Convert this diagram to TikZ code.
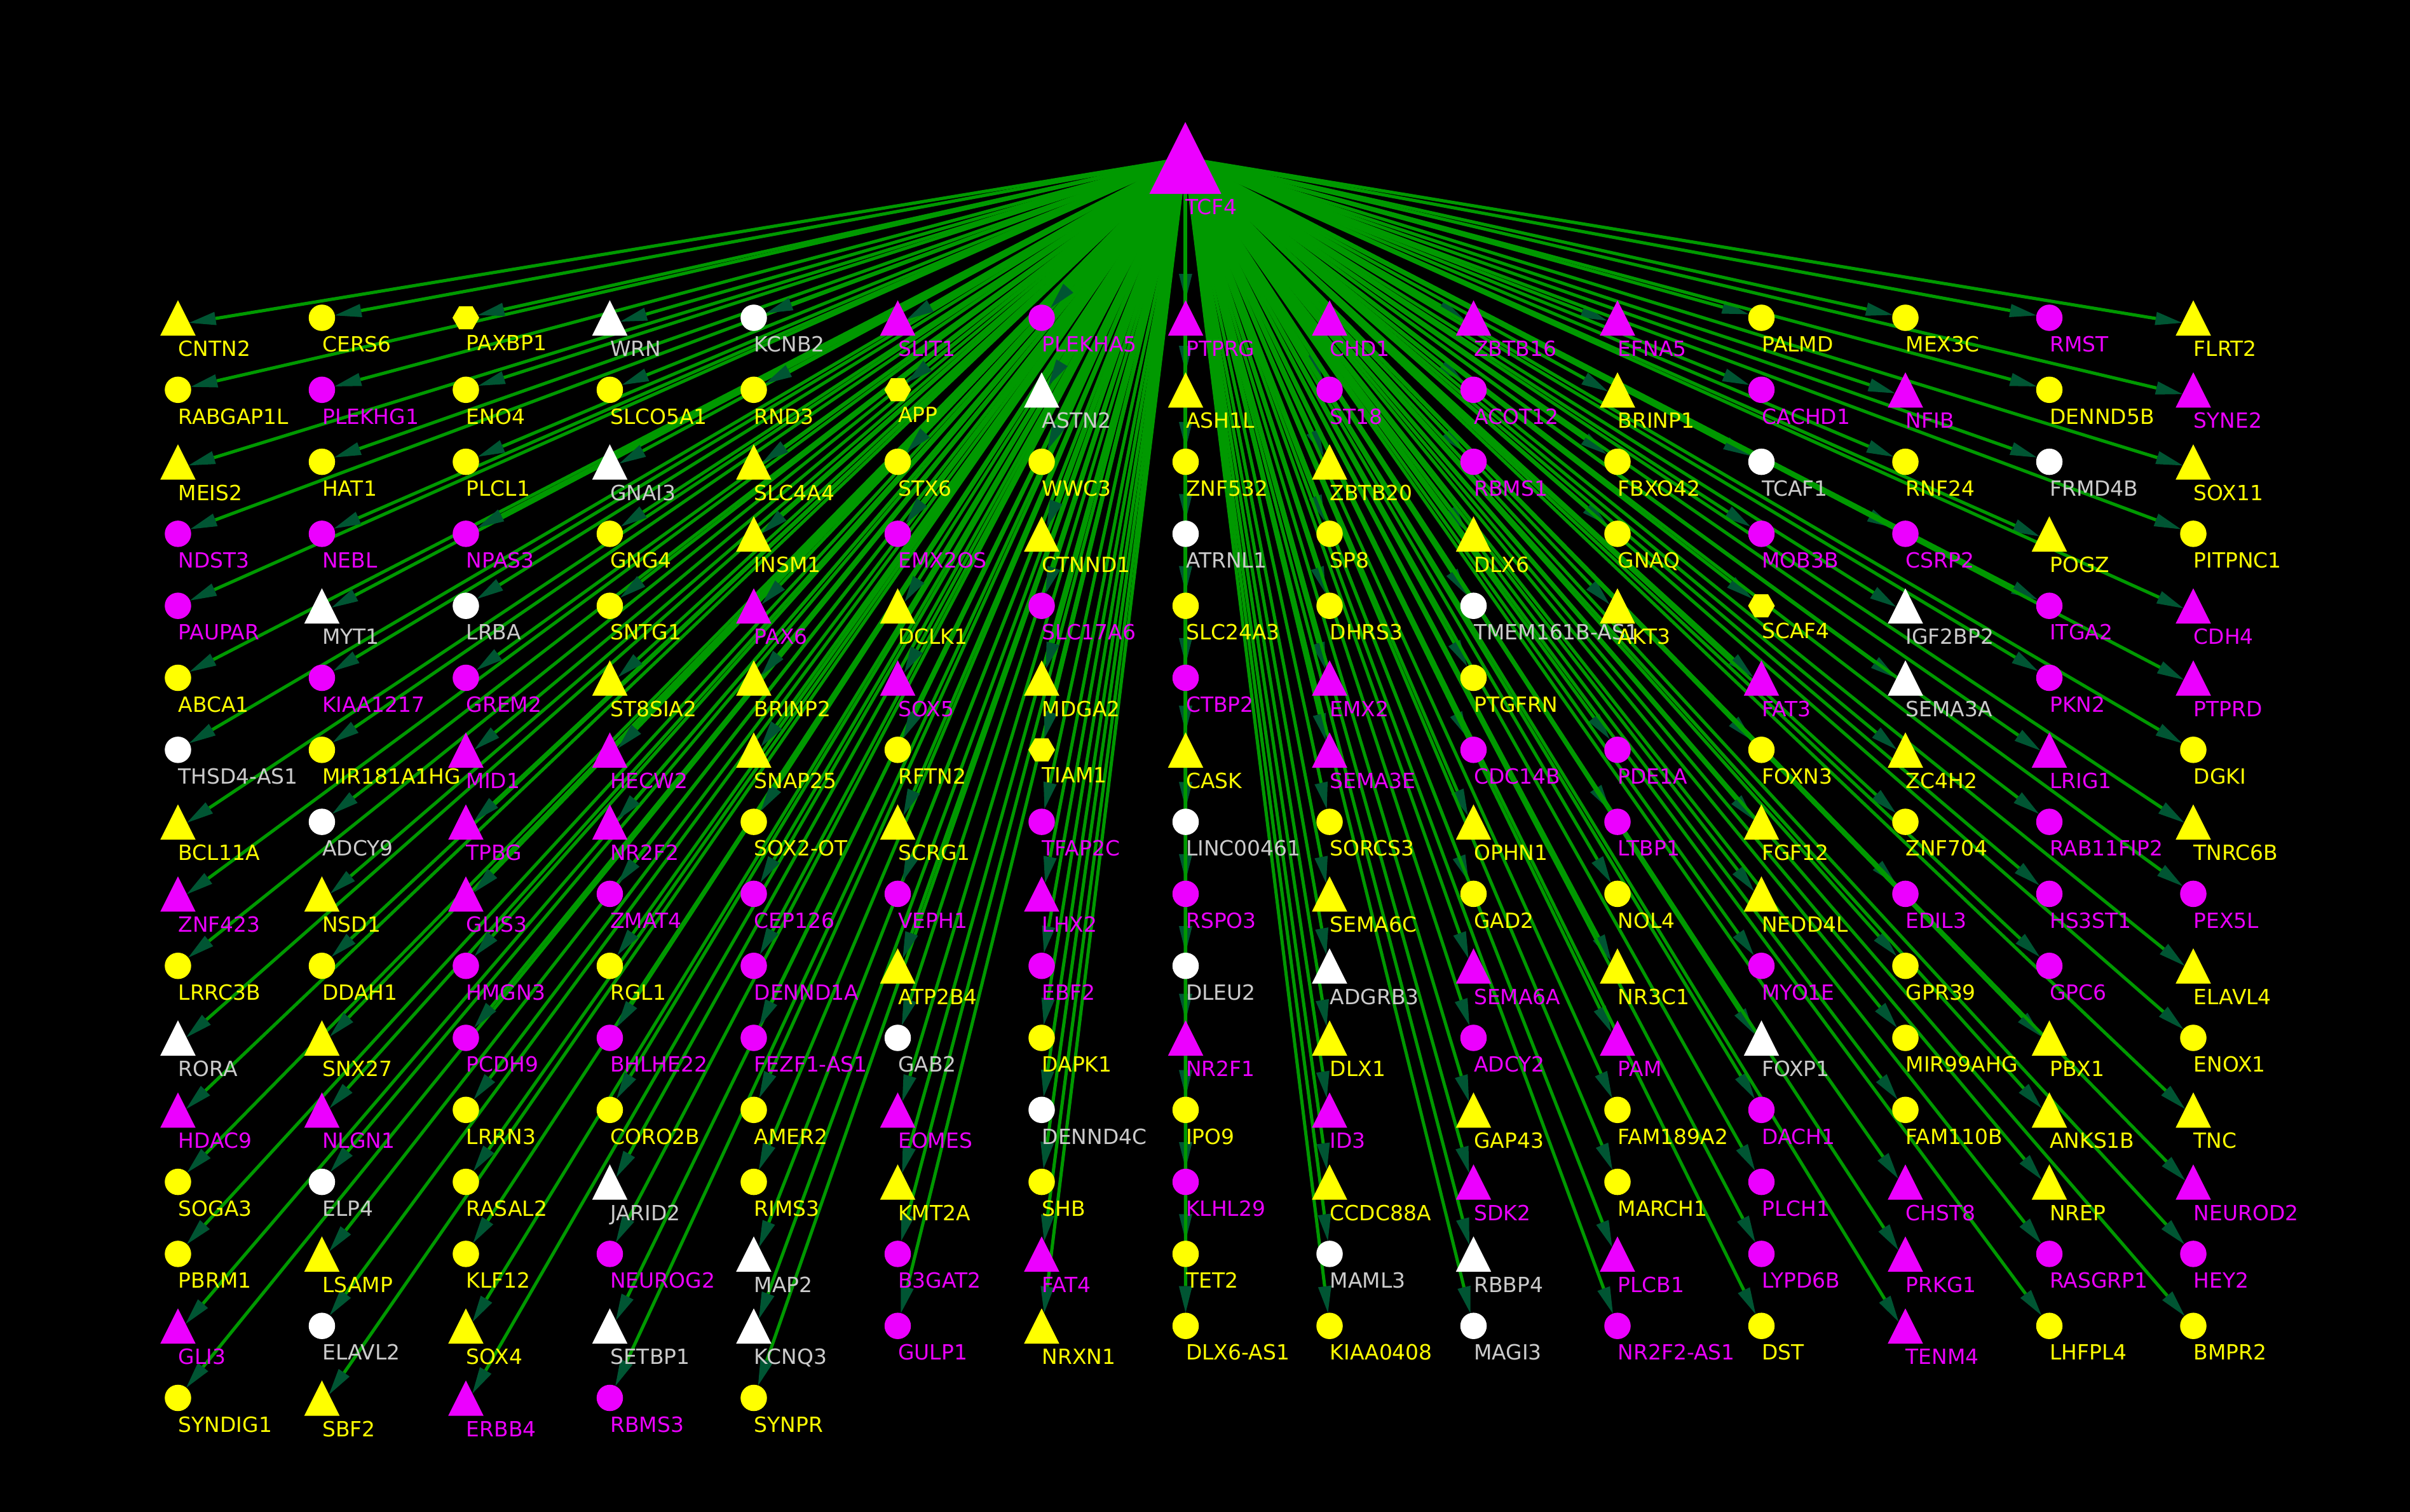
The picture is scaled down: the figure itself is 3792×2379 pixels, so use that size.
\documentclass[tikz,border=0pt]{standalone}
\usepackage{fontspec}
\setmainfont{DejaVu Sans}
\usetikzlibrary{arrows.meta, shapes.geometric}
\definecolor{ndy}{RGB}{255,255,0}
\definecolor{ndm}{RGB}{236,0,255}
\definecolor{ndw}{RGB}{255,255,255}
\definecolor{txy}{RGB}{255,255,0}
\definecolor{txm}{RGB}{236,0,255}
\definecolor{txw}{RGB}{204,204,204}
\definecolor{edgegreen}{RGB}{0,153,0}
\definecolor{arrowgreen}{RGB}{0,85,51}
\pgfdeclarelayer{bg}
\pgfdeclarelayer{edges}
\pgfsetlayers{bg,edges,main}

\tikzset{
	gene/.style={draw=none, inner sep=0pt, outer sep=0pt},
	shT/.style={gene, isosceles triangle, isosceles triangle stretches, shape border rotate=90, minimum width=0.555cm, minimum height=0.555cm, anchor=apex, yshift=0.275cm},
	shC/.style={gene, circle, minimum size=0.415cm},
	shH/.style={gene, regular polygon, regular polygon sides=6, minimum size=0.42cm},
	lbl/.style={anchor=base west, inner sep=0pt, font=\fontsize{9.37pt}{11pt}\selectfont},
	lbT/.style={yshift=-0.605cm},
	lbC/.style={yshift=-0.537cm},
	lbH/.style={yshift=-0.515cm},
	edge/.style={draw=edgegreen, line width=1.45pt, -{Triangle[length=11.9pt, width=6pt, line width=0pt, color=arrowgreen]}}
}

% one column of target genes: column, x, first row, list name/shape/colour
\newcommand{\genecol}[4]{%
	\foreach \gname/\shp/\clr [count=\rw from #3] in {#4}{
		\node[sh\shp, fill=nd\clr] (g-#1-\rw) at (#2, {500+113.3*(\rw-1)}) {};
		\node[lbl, lb\shp, text=tx\clr] (g-#1-\rw-t) at (#2, {500+113.3*(\rw-1)}) {\gname};
		\begin{pgfonlayer}{edges}
			\draw[edge] (src) -- (g-#1-\rw);
		\end{pgfonlayer}
	}%
}

\begin{document}
\begin{tikzpicture}[x=0.01cm, y=-0.01cm]
	\useasboundingbox (0,0) rectangle (3792,2379);
	\begin{pgfonlayer}{bg}
		\fill[black] (0,0) rectangle (3792,2379);
	\end{pgfonlayer}
	
	% hub
	\coordinate (src) at (1865,249);
	\node[gene, isosceles triangle, isosceles triangle stretches, shape border rotate=90, minimum width=1.13cm, minimum height=1.13cm, anchor=apex, fill=ndm] (hub) at (1865,192) {};
	\node[lbl, text=txm] (hub-t) at (1865,338) {TCF4};
	
	\genecol{1}{280}{1}{CNTN2/T/y, RABGAP1L/C/y, MEIS2/T/y, NDST3/C/m, PAUPAR/C/m, ABCA1/C/y, THSD4-AS1/C/w, BCL11A/T/y, ZNF423/T/m, LRRC3B/C/y, RORA/T/w, HDAC9/T/m, SOGA3/C/y, PBRM1/C/y, GLI3/T/m, SYNDIG1/C/y}
	\genecol{2}{506.5}{1}{CERS6/C/y, PLEKHG1/C/m, HAT1/C/y, NEBL/C/m, MYT1/T/w, KIAA1217/C/m, MIR181A1HG/C/y, ADCY9/C/w, NSD1/T/y, DDAH1/C/y, SNX27/T/y, NLGN1/T/m, ELP4/C/w, LSAMP/T/y, ELAVL2/C/w, SBF2/T/y}
	\genecol{3}{733}{1}{PAXBP1/H/y, ENO4/C/y, PLCL1/C/y, NPAS3/C/m, LRBA/C/w, GREM2/C/m, MID1/T/m, TPBG/T/m, GLIS3/T/m, HMGN3/C/m, PCDH9/C/m, LRRN3/C/y, RASAL2/C/y, KLF12/C/y, SOX4/T/y, ERBB4/T/m}
	\genecol{4}{959.5}{1}{WRN/T/w, SLCO5A1/C/y, GNAI3/T/w, GNG4/C/y, SNTG1/C/y, ST8SIA2/T/y, HECW2/T/m, NR2F2/T/m, ZMAT4/C/m, RGL1/C/y, BHLHE22/C/m, CORO2B/C/y, JARID2/T/w, NEUROG2/C/m, SETBP1/T/w, RBMS3/C/m}
	\genecol{5}{1186}{1}{KCNB2/C/w, RND3/C/y, SLC4A4/T/y, INSM1/T/y, PAX6/T/m, BRINP2/T/y, SNAP25/T/y, SOX2-OT/C/y, CEP126/C/m, DENND1A/C/m, FEZF1-AS1/C/m, AMER2/C/y, RIMS3/C/y, MAP2/T/w, KCNQ3/T/w, SYNPR/C/y}
	\genecol{6}{1412.5}{1}{SLIT1/T/m, APP/H/y, STX6/C/y, EMX2OS/C/m, DCLK1/T/y, SOX5/T/m, RFTN2/C/y, SCRG1/T/y, VEPH1/C/m, ATP2B4/T/y, GAB2/C/w, EOMES/T/m, KMT2A/T/y, B3GAT2/C/m, GULP1/C/m}
	\genecol{7}{1639}{1}{PLEKHA5/C/m, ASTN2/T/w, WWC3/C/y, CTNND1/T/y, SLC17A6/C/m, MDGA2/T/y, TIAM1/H/y, TFAP2C/C/m, LHX2/T/m, EBF2/C/m, DAPK1/C/y, DENND4C/C/w, SHB/C/y, FAT4/T/m, NRXN1/T/y}
	\genecol{8}{1865.5}{1}{PTPRG/T/m, ASH1L/T/y, ZNF532/C/y, ATRNL1/C/w, SLC24A3/C/y, CTBP2/C/m, CASK/T/y, LINC00461/C/w, RSPO3/C/m, DLEU2/C/w, NR2F1/T/m, IPO9/C/y, KLHL29/C/m, TET2/C/y, DLX6-AS1/C/y}
	\genecol{9}{2092}{1}{CHD1/T/m, ST18/C/m, ZBTB20/T/y, SP8/C/y, DHRS3/C/y, EMX2/T/m, SEMA3E/T/m, SORCS3/C/y, SEMA6C/T/y, ADGRB3/T/w, DLX1/T/y, ID3/T/m, CCDC88A/T/y, MAML3/C/w, KIAA0408/C/y}
	\genecol{10}{2318.5}{1}{ZBTB16/T/m, ACOT12/C/m, RBMS1/C/m, DLX6/T/y, TMEM161B-AS1/C/w, PTGFRN/C/y, CDC14B/C/m, OPHN1/T/y, GAD2/C/y, SEMA6A/T/m, ADCY2/C/m, GAP43/T/y, SDK2/T/m, RBBP4/T/w, MAGI3/C/w}
	\genecol{11}{2545}{1}{EFNA5/T/m, BRINP1/T/y, FBXO42/C/y, GNAQ/C/y, AKT3/T/y}
	\genecol{11}{2545}{7}{PDE1A/C/m, LTBP1/C/m, NOL4/C/y, NR3C1/T/y, PAM/T/m, FAM189A2/C/y, MARCH1/C/y, PLCB1/T/m, NR2F2-AS1/C/m}
	\genecol{12}{2771.5}{1}{PALMD/C/y, CACHD1/C/m, TCAF1/C/w, MOB3B/C/m, SCAF4/H/y, FAT3/T/m, FOXN3/C/y, FGF12/T/y, NEDD4L/T/y, MYO1E/C/m, FOXP1/T/w, DACH1/C/m, PLCH1/C/m, LYPD6B/C/m, DST/C/y}
	\genecol{13}{2998}{1}{MEX3C/C/y, NFIB/T/m, RNF24/C/y, CSRP2/C/m, IGF2BP2/T/w, SEMA3A/T/w, ZC4H2/T/y, ZNF704/C/y, EDIL3/C/m, GPR39/C/y, MIR99AHG/C/y, FAM110B/C/y, CHST8/T/m, PRKG1/T/m, TENM4/T/m}
	\genecol{14}{3224.5}{1}{RMST/C/m, DENND5B/C/y, FRMD4B/C/w, POGZ/T/y, ITGA2/C/m, PKN2/C/m, LRIG1/T/m, RAB11FIP2/C/m, HS3ST1/C/m, GPC6/C/m, PBX1/T/y, ANKS1B/T/y, NREP/T/y, RASGRP1/C/m, LHFPL4/C/y}
	\genecol{15}{3451}{1}{FLRT2/T/y, SYNE2/T/m, SOX11/T/y, PITPNC1/C/y, CDH4/T/m, PTPRD/T/m, DGKI/C/y, TNRC6B/T/y, PEX5L/C/m, ELAVL4/T/y, ENOX1/C/y, TNC/T/y, NEUROD2/T/m, HEY2/C/m, BMPR2/C/y}
\end{tikzpicture}
\end{document}
